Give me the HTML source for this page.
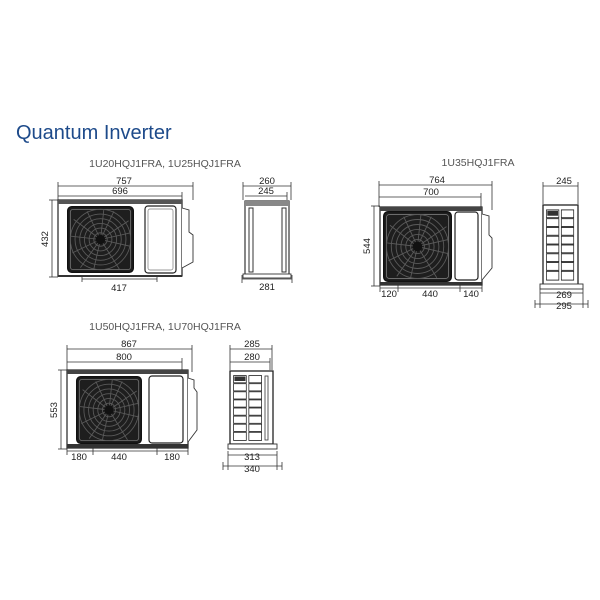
<!DOCTYPE html>
<html><head><style>
html,body{margin:0;padding:0;background:#fff;}
svg{display:block;}
text{font-family:"Liberation Sans",sans-serif;}
</style></head><body>
<svg width="600" height="600" viewBox="0 0 600 600" xmlns="http://www.w3.org/2000/svg">
<defs>
<symbol id="fan" viewBox="0 0 100 100" preserveAspectRatio="none">
<rect x="1" y="1" width="98" height="98" rx="6" fill="#1e1e1e" stroke="#111" stroke-width="2"/>
<rect x="5" y="5" width="90" height="90" rx="4" fill="none" stroke="#777" stroke-width="1.2"/>
<g stroke="#5a5a5a" stroke-width="1.3" fill="none">
<path d="M50 50 L10 20 M50 50 L30 8 M50 50 L70 8 M50 50 L92 22 M50 50 L94 60 M50 50 L78 94 M50 50 L40 94 M50 50 L8 70 M50 50 L6 45 M50 50 L55 5 M50 50 L95 40 M50 50 L20 92"/>
<circle cx="50" cy="50" r="10"/><circle cx="50" cy="50" r="17"/><circle cx="50" cy="50" r="24"/><circle cx="50" cy="50" r="31"/><circle cx="50" cy="50" r="38"/><circle cx="50" cy="50" r="45"/>
</g>
<circle cx="50" cy="50" r="7" fill="#111"/>
</symbol>
<symbol id="grille" viewBox="0 0 40 80" preserveAspectRatio="none">
<g fill="#fff" stroke="#222" stroke-width="0.9">
<rect x="3" y="4" width="15" height="8"/><rect x="21" y="4" width="15" height="8"/>
<rect x="3" y="13" width="15" height="8"/><rect x="21" y="13" width="15" height="8"/>
<rect x="3" y="22" width="15" height="8"/><rect x="21" y="22" width="15" height="8"/>
<rect x="3" y="31" width="15" height="8"/><rect x="21" y="31" width="15" height="8"/>
<rect x="3" y="40" width="15" height="8"/><rect x="21" y="40" width="15" height="8"/>
<rect x="3" y="49" width="15" height="8"/><rect x="21" y="49" width="15" height="8"/>
<rect x="3" y="58" width="15" height="8"/><rect x="21" y="58" width="15" height="8"/>
<rect x="3" y="67" width="15" height="9"/><rect x="21" y="67" width="15" height="9"/>
</g>
<rect x="4" y="5" width="13" height="5" fill="#333"/>
</symbol>
</defs>

<text x="16" y="139" font-size="20" fill="#1d4a8a">Quantum Inverter</text>

<g stroke="#333" stroke-width="0.8" fill="none">
<line x1="58" y1="186" x2="193" y2="186"/><line x1="58" y1="182" x2="58" y2="200"/><line x1="193" y1="182" x2="193" y2="200"/>
<line x1="58" y1="196" x2="182" y2="196"/><line x1="182" y1="192" x2="182" y2="200"/>
<line x1="52" y1="200" x2="52" y2="277"/><line x1="49" y1="200" x2="58" y2="200"/><line x1="49" y1="277" x2="58" y2="277"/>
<line x1="82" y1="279" x2="157" y2="279"/><line x1="82" y1="275" x2="82" y2="282"/><line x1="157" y1="275" x2="157" y2="282"/>
<line x1="243" y1="186" x2="291" y2="186"/><line x1="243" y1="182" x2="243" y2="200"/><line x1="291" y1="182" x2="291" y2="200"/>
<line x1="245" y1="196" x2="287" y2="196"/><line x1="287" y1="192" x2="287" y2="200"/>
<line x1="242" y1="279" x2="292" y2="279"/><line x1="242" y1="275" x2="242" y2="283"/><line x1="292" y1="275" x2="292" y2="283"/>
<line x1="379" y1="185" x2="492" y2="185"/><line x1="379" y1="181" x2="379" y2="207"/><line x1="492" y1="181" x2="492" y2="210"/>
<line x1="379" y1="197" x2="481" y2="197"/><line x1="481" y1="193" x2="481" y2="207"/>
<line x1="374" y1="206" x2="374" y2="286"/><line x1="371" y1="206" x2="380" y2="206"/><line x1="371" y1="286" x2="380" y2="286"/>
<line x1="380" y1="288" x2="482" y2="288"/><line x1="398" y1="284" x2="398" y2="292"/><line x1="460" y1="284" x2="460" y2="292"/><line x1="380" y1="284" x2="380" y2="292"/><line x1="482" y1="284" x2="482" y2="292"/>
<line x1="543" y1="186" x2="578" y2="186"/><line x1="543" y1="182" x2="543" y2="204"/><line x1="578" y1="182" x2="578" y2="204"/>
<line x1="540" y1="293" x2="583" y2="293"/><line x1="540" y1="289" x2="540" y2="308"/><line x1="583" y1="289" x2="583" y2="308"/>
<line x1="535" y1="304" x2="588" y2="304"/><line x1="535" y1="300" x2="535" y2="308"/><line x1="588" y1="300" x2="588" y2="308"/>
<line x1="67" y1="349" x2="192" y2="349"/><line x1="67" y1="345" x2="67" y2="370"/><line x1="192" y1="345" x2="192" y2="372"/>
<line x1="67" y1="362" x2="182" y2="362"/><line x1="182" y1="358" x2="182" y2="370"/>
<line x1="61" y1="370" x2="61" y2="449"/><line x1="58" y1="370" x2="67" y2="370"/><line x1="58" y1="449" x2="67" y2="449"/>
<line x1="67" y1="451" x2="188" y2="451"/><line x1="67" y1="447" x2="67" y2="455"/><line x1="93" y1="447" x2="93" y2="455"/><line x1="157" y1="447" x2="157" y2="455"/><line x1="188" y1="447" x2="188" y2="455"/>
<line x1="230" y1="349" x2="272" y2="349"/><line x1="230" y1="345" x2="230" y2="370"/><line x1="272" y1="345" x2="272" y2="370"/>
<line x1="230" y1="362" x2="270" y2="362"/><line x1="270" y1="358" x2="270" y2="370"/>
<line x1="228" y1="455" x2="277" y2="455"/><line x1="228" y1="451" x2="228" y2="470"/><line x1="277" y1="451" x2="277" y2="470"/>
<line x1="223" y1="466" x2="282" y2="466"/><line x1="223" y1="462" x2="223" y2="470"/><line x1="282" y1="462" x2="282" y2="470"/>
</g>

<rect x="58" y="200" width="124" height="76" fill="#fff" stroke="#222" stroke-width="1.2"/>
<rect x="58" y="200" width="124" height="4" fill="#555"/>
<path d="M182 208 L189 210 L189 232 L193 235 L193 262 L182 268" fill="#fff" stroke="#333" stroke-width="0.9"/>
<use href="#fan" x="67" y="206" width="67" height="67"/>
<rect x="145" y="206" width="31" height="67" rx="3" fill="#fff" stroke="#222" stroke-width="1.2"/>
<rect x="148" y="209" width="25" height="61" rx="2" fill="none" stroke="#777" stroke-width="0.7"/>
<rect x="58" y="275" width="124" height="2" fill="#333"/>
<rect x="245" y="201" width="44" height="75" fill="#fff" stroke="#222" stroke-width="1.1"/>
<rect x="245" y="201" width="44" height="5" fill="#888"/>
<rect x="249" y="208" width="4" height="64" fill="none" stroke="#333" stroke-width="1"/>
<rect x="282" y="208" width="4" height="64" fill="none" stroke="#333" stroke-width="1"/>
<rect x="243" y="274" width="48" height="4" fill="#fff" stroke="#333" stroke-width="0.9"/>

<rect x="380" y="207" width="102" height="78" fill="#fff" stroke="#222" stroke-width="1.2"/>
<rect x="380" y="207" width="102" height="4" fill="#444"/>
<path d="M482 214 L489 216 L489 235 L492 238 L492 268 L482 280" fill="#fff" stroke="#333" stroke-width="0.9"/>
<use href="#fan" x="383" y="211" width="69" height="71"/>
<rect x="455" y="212" width="23" height="68" rx="3" fill="#fff" stroke="#222" stroke-width="1.2"/>
<rect x="380" y="282" width="102" height="3" fill="#333"/>
<rect x="543" y="205" width="35" height="80" fill="#fff" stroke="#222" stroke-width="1.3"/>
<use href="#grille" x="544" y="206" width="33" height="78"/>
<rect x="540" y="284" width="43" height="5" fill="#fff" stroke="#333" stroke-width="0.9"/>

<rect x="67" y="370" width="121" height="78" fill="#fff" stroke="#222" stroke-width="1.2"/>
<rect x="67" y="370" width="121" height="4" fill="#444"/>
<path d="M188 378 L194 380 L194 388 L197 392 L197 430 L188 442" fill="#fff" stroke="#333" stroke-width="0.9"/>
<use href="#fan" x="76" y="376" width="66" height="68"/>
<rect x="149" y="376" width="34" height="67" rx="3" fill="#fff" stroke="#222" stroke-width="1.2"/>
<rect x="67" y="444" width="121" height="4" fill="#333"/>
<rect x="230" y="371" width="43" height="73" fill="#fff" stroke="#222" stroke-width="1.3"/>
<use href="#grille" x="231" y="372" width="34" height="72"/>
<rect x="265" y="376" width="3" height="64" fill="none" stroke="#333" stroke-width="0.8"/>
<rect x="228" y="444" width="49" height="5" fill="#fff" stroke="#333" stroke-width="0.9"/>

<g font-size="9.5" fill="#222" text-anchor="middle">
<text x="165" y="167" font-size="10.5" fill="#555">1U20HQJ1FRA, 1U25HQJ1FRA</text>
<text x="124" y="184">757</text>
<text x="120" y="194">696</text>
<text x="119" y="291">417</text>
<text x="48" y="239" transform="rotate(-90 48 239)">432</text>
<text x="267" y="184">260</text>
<text x="266" y="194">245</text>
<text x="267" y="290">281</text>
<text x="478" y="166" font-size="10.5" fill="#555">1U35HQJ1FRA</text>
<text x="437" y="183">764</text>
<text x="431" y="195">700</text>
<text x="370" y="246" transform="rotate(-90 370 246)">544</text>
<text x="389" y="297">120</text>
<text x="430" y="297">440</text>
<text x="471" y="297">140</text>
<text x="564" y="184">245</text>
<text x="564" y="298">269</text>
<text x="564" y="309">295</text>
<text x="165" y="330" font-size="10.5" fill="#555">1U50HQJ1FRA, 1U70HQJ1FRA</text>
<text x="129" y="347">867</text>
<text x="124" y="360">800</text>
<text x="57" y="410" transform="rotate(-90 57 410)">553</text>
<text x="79" y="460">180</text>
<text x="119" y="460">440</text>
<text x="172" y="460">180</text>
<text x="252" y="347">285</text>
<text x="252" y="360">280</text>
<text x="252" y="460">313</text>
<text x="252" y="472">340</text>
</g>
</svg>
</body></html>
